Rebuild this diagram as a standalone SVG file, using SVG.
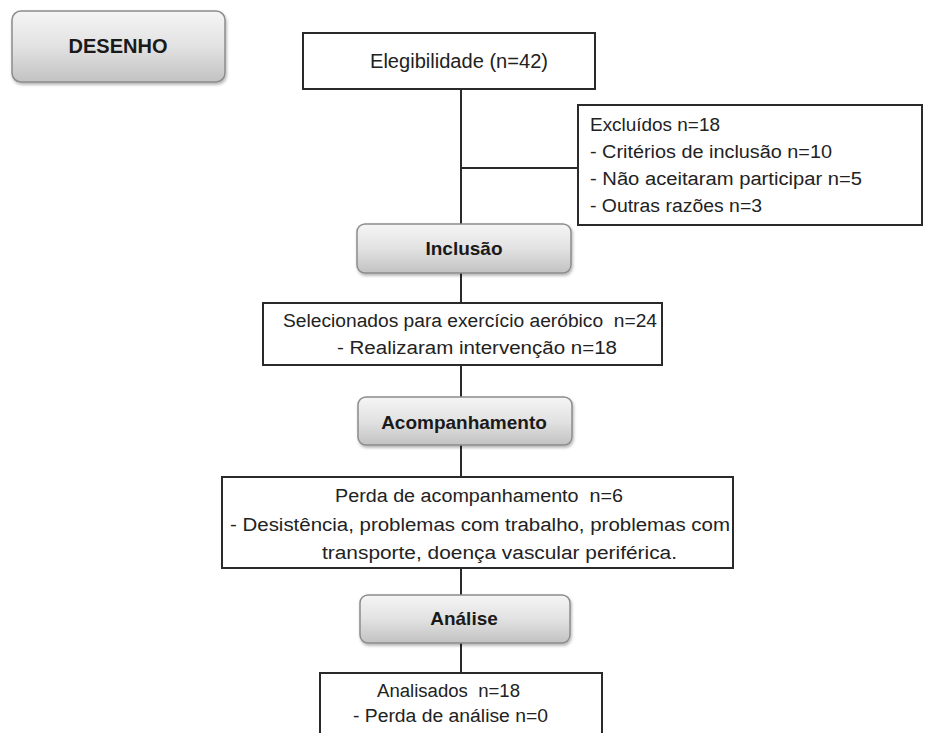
<svg xmlns="http://www.w3.org/2000/svg" width="926" height="733" viewBox="0 0 926 733">
<defs>
<linearGradient id="g" x1="0" y1="0" x2="0" y2="1">
<stop offset="0" stop-color="#f5f5f5"/>
<stop offset="0.5" stop-color="#e2e2e2"/>
<stop offset="1" stop-color="#c2c2c2"/>
</linearGradient>
<filter id="sh" x="-10%" y="-10%" width="120%" height="130%">
<feDropShadow dx="1" dy="2" stdDeviation="1.5" flood-color="#000" flood-opacity="0.3"/>
</filter>
</defs>
<style>
.pill{fill:url(#g);stroke:#8c8c8c;stroke-width:1.5;filter:url(#sh)}
.box{fill:#fff;stroke:#2a2a2a;stroke-width:2}
.t{font-family:"Liberation Sans",Arial,sans-serif;font-size:18px;fill:#222}
.b{font-family:"Liberation Sans",Arial,sans-serif;font-size:19px;font-weight:bold;fill:#1a1a1a;text-anchor:middle}
.c{stroke:#2a2a2a;stroke-width:2;fill:none}
</style>
<rect width="926" height="733" fill="#fff"/>
<g id="connectors">
<path class="c" d="M461 89V224M461 168H578M461 273V303M461 365V397M461 445V477M461 568V595M461 643V673"/>
</g>
<g id="desenho">
<rect class="pill" x="12" y="11" width="213" height="71" rx="9"/>
<text class="b" x="118" y="53" style="font-size:20px">DESENHO</text>
</g>
<g id="elegibilidade">
<rect class="box" x="303" y="33" width="292" height="56"/>
<text class="t" x="370" y="68" style="font-size:20px" textLength="178" lengthAdjust="spacingAndGlyphs">Elegibilidade (n=42)</text>
</g>
<g id="excluidos">
<rect class="box" x="578" y="105" width="344" height="120"/>
<text class="t" x="590" y="131" textLength="130" lengthAdjust="spacingAndGlyphs">Excluídos n=18</text>
<text class="t" x="590" y="158" textLength="242" lengthAdjust="spacingAndGlyphs">- Critérios de inclusão n=10</text>
<text class="t" x="590" y="185" textLength="272" lengthAdjust="spacingAndGlyphs">- Não aceitaram participar n=5</text>
<text class="t" x="590" y="212" textLength="172" lengthAdjust="spacingAndGlyphs">- Outras razões n=3</text>
</g>
<g id="inclusao">
<rect class="pill" x="357" y="224" width="214" height="49" rx="8"/>
<text class="b" x="464" y="255">Inclusão</text>
</g>
<g id="selecionados">
<rect class="box" x="263" y="303" width="399" height="62"/>
<text class="t" x="283" y="327" textLength="374" lengthAdjust="spacingAndGlyphs">Selecionados para exercício aeróbico &#160;n=24</text>
<text class="t" x="337" y="354" textLength="280" lengthAdjust="spacingAndGlyphs">- Realizaram intervenção n=18</text>
</g>
<g id="acompanhamento">
<rect class="pill" x="358" y="397" width="214" height="48" rx="8"/>
<text class="b" x="464" y="429">Acompanhamento</text>
</g>
<g id="perda">
<rect class="box" x="222" y="477" width="511" height="91"/>
<text class="t" x="335" y="502" textLength="288" lengthAdjust="spacingAndGlyphs">Perda de acompanhamento &#160;n=6</text>
<text class="t" x="230" y="531" textLength="500" lengthAdjust="spacingAndGlyphs">- Desistência, problemas com trabalho, problemas com</text>
<text class="t" x="322" y="559" textLength="355" lengthAdjust="spacingAndGlyphs">transporte, doença vascular periférica.</text>
</g>
<g id="analise">
<rect class="pill" x="360" y="595" width="210" height="48" rx="8"/>
<text class="b" x="464" y="625">Análise</text>
</g>
<g id="analisados">
<rect class="box" x="320" y="673" width="282" height="80"/>
<text class="t" x="377" y="697" textLength="143" lengthAdjust="spacingAndGlyphs">Analisados &#160;n=18</text>
<text class="t" x="353" y="722" textLength="195" lengthAdjust="spacingAndGlyphs">- Perda de análise n=0</text>
</g>
</svg>
